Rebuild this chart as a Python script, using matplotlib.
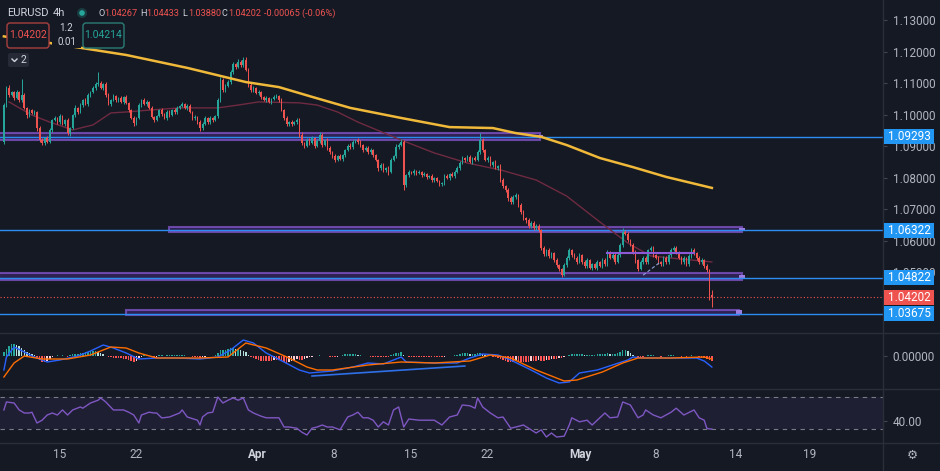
import matplotlib
matplotlib.use("Agg")
import matplotlib.pyplot as plt
import matplotlib.transforms as mtransforms
from matplotlib.patches import Rectangle, FancyBboxPatch, Circle
from matplotlib.lines import Line2D
import numpy as np

plt.rcParams['font.family'] = ['Roboto', 'DejaVu Sans']

# ---------------- data ----------------
symbol = "EURUSD"
timeframe = "4h"
ohlc_text = ["1.04267", "1.04433", "1.03880", "1.04202", "-0.00065 (-0.06%)"]
sell_price, buy_price = "1.04202", "1.04214"

first_open = 1.0913
closes = [
    1.1030, 1.1084, 1.1062, 1.1071, 1.1052, 1.1071, 1.1046, 1.1062, 1.1021, 1.0998, 1.1014, 1.1005, 1.1008, 1.0957, 1.0919, 1.0910, 1.0925, 1.0913, 1.0951, 1.0983,
    1.0989, 1.0976, 1.0995, 1.0970, 1.0983, 1.0941, 1.0957, 1.0998, 1.1021, 1.1008, 1.1030, 1.1046, 1.1033, 1.1062, 1.1071, 1.1084, 1.1097, 1.1100, 1.1084, 1.1097,
    1.1062, 1.1033, 1.1046, 1.1059, 1.1046, 1.1052, 1.1040, 1.1056, 1.1037, 1.1014, 1.0989, 1.0973, 1.0989, 1.1030, 1.1046, 1.1033, 1.1040, 1.1021, 1.0992, 1.0983,
    1.0995, 1.1014, 1.1002, 1.0989, 1.1008, 1.0998, 1.1014, 1.1008, 1.1021, 1.1027, 1.1033, 1.1021, 1.1027, 1.1008, 1.0989, 1.0992, 1.0976, 1.0957, 1.0970, 1.0989,
    1.0976, 1.0989, 1.0983, 1.0995, 1.1046, 1.1110, 1.1078, 1.1091, 1.1103, 1.1135, 1.1160, 1.1151, 1.1167, 1.1157, 1.1173, 1.1141, 1.1094, 1.1078, 1.1084, 1.1068,
    1.1071, 1.1056, 1.1046, 1.1052, 1.1040, 1.1049, 1.1056, 1.1059, 1.1046, 1.1014, 1.0989, 1.0970, 1.0976, 1.0970, 1.0976, 1.0983, 1.0935, 1.0910, 1.0900, 1.0919,
    1.0910, 1.0925, 1.0900, 1.0916, 1.0935, 1.0903, 1.0919, 1.0894, 1.0881, 1.0868, 1.0856, 1.0868, 1.0859, 1.0871, 1.0887, 1.0900, 1.0897, 1.0913, 1.0919, 1.0913,
    1.0903, 1.0887, 1.0894, 1.0881, 1.0887, 1.0871, 1.0856, 1.0830, 1.0840, 1.0824, 1.0830, 1.0818, 1.0856, 1.0868, 1.0897, 1.0903, 1.0913, 1.0776, 1.0808, 1.0818,
    1.0814, 1.0821, 1.0814, 1.0818, 1.0808, 1.0811, 1.0802, 1.0805, 1.0792, 1.0798, 1.0789, 1.0779, 1.0783, 1.0805, 1.0798, 1.0811, 1.0805, 1.0818, 1.0830, 1.0846,
    1.0862, 1.0856, 1.0865, 1.0849, 1.0862, 1.0856, 1.0881, 1.0919, 1.0887, 1.0856, 1.0862, 1.0840, 1.0849, 1.0830, 1.0836, 1.0792, 1.0773, 1.0760, 1.0735, 1.0722,
    1.0738, 1.0745, 1.0713, 1.0691, 1.0671, 1.0665, 1.0646, 1.0656, 1.0640, 1.0646, 1.0633, 1.0576, 1.0557, 1.0570, 1.0551, 1.0560, 1.0538, 1.0522, 1.0510, 1.0492,
    1.0522, 1.0545, 1.0570, 1.0554, 1.0545, 1.0532, 1.0554, 1.0532, 1.0519, 1.0538, 1.0513, 1.0525, 1.0513, 1.0532, 1.0519, 1.0538, 1.0525, 1.0564, 1.0545, 1.0554,
    1.0532, 1.0554, 1.0586, 1.0627, 1.0621, 1.0602, 1.0586, 1.0564, 1.0538, 1.0510, 1.0532, 1.0545, 1.0532, 1.0570, 1.0576, 1.0554, 1.0545, 1.0532, 1.0525, 1.0545,
    1.0532, 1.0554, 1.0570, 1.0576, 1.0564, 1.0545, 1.0532, 1.0545, 1.0525, 1.0551, 1.0570, 1.0560, 1.0545, 1.0532, 1.0538, 1.0519, 1.0506, 1.04267, 1.04202,
]
up_wick_pips = [
    8, 6, 9, 4, 5, 7, 3, 50, 6, 4, 5, 3, 7, 4, 5, 6, 3, 8, 5, 4,
    6, 3, 7, 5, 4, 6, 3, 5, 8, 4, 6, 3, 7, 5, 4, 6, 5, 35, 6, 4,
    5, 7, 3, 6, 4, 5, 8, 3, 6, 4, 5, 7, 4, 6, 3, 5, 6, 4, 7, 3,
    5, 4, 6, 3, 7, 5, 4, 6, 5, 3, 7, 4, 5, 6, 3, 5, 4, 7, 5, 6,
    4, 6, 3, 5, 7, 9, 6, 5, 8, 6, 7, 5, 9, 6, 10, 8, 6, 5, 7, 4,
    6, 5, 4, 7, 5, 3, 6, 5, 4, 7, 5, 6, 4, 5, 3, 6, 5, 8, 4, 6,
    5, 7, 4, 6, 9, 5, 4, 6, 5, 3, 7, 4, 6, 5, 4, 6, 8, 5, 4, 6,
    5, 4, 7, 5, 6, 3, 5, 4, 6, 5, 4, 7, 6, 5, 8, 6, 9, 6, 4, 5,
    3, 5, 4, 6, 3, 5, 4, 3, 6, 4, 5, 3, 4, 6, 5, 4, 6, 5, 7, 5,
    6, 4, 5, 6, 4, 5, 7, 22, 6, 4, 5, 6, 4, 5, 3, 6, 5, 4, 6, 5,
    7, 5, 4, 6, 5, 3, 6, 5, 7, 6, 8, 5, 6, 4, 7, 5, 4, 6, 5, 4,
    6, 7, 5, 4, 6, 5, 7, 4, 5, 6, 4, 5, 3, 6, 4, 5, 6, 5, 4, 6,
    5, 7, 6, 14, 6, 5, 4, 6, 5, 4, 7, 5, 6, 4, 5, 6, 4, 5, 3, 6,
    5, 4, 7, 6, 5, 4, 6, 5, 4, 6, 7, 5, 4, 6, 5, 4, 6, 5, 17,
]
down_wick_pips = [
    8, 5, 6, 4, 7, 3, 5, 6, 4, 8, 5, 4, 6, 9, 7, 8, 6, 5, 4, 6,
    3, 5, 6, 4, 7, 5, 8, 4, 6, 5, 3, 7, 4, 5, 6, 4, 5, 6, 4, 7,
    5, 4, 6, 3, 7, 5, 4, 6, 5, 7, 4, 8, 6, 4, 5, 3, 6, 5, 4, 7,
    5, 4, 6, 3, 5, 7, 4, 5, 6, 4, 3, 5, 6, 4, 7, 5, 6, 8, 5, 4,
    6, 5, 7, 4, 6, 5, 8, 6, 4, 5, 7, 5, 4, 6, 5, 4, 7, 5, 6, 4,
    5, 6, 4, 7, 5, 6, 4, 5, 6, 4, 7, 8, 5, 6, 4, 5, 7, 6, 5, 4,
    6, 5, 7, 4, 5, 6, 4, 7, 5, 6, 8, 5, 4, 6, 5, 4, 6, 5, 4, 7,
    5, 6, 4, 7, 5, 6, 4, 8, 5, 6, 7, 9, 5, 4, 6, 5, 4, 16, 6, 5,
    4, 5, 6, 4, 5, 3, 6, 4, 5, 6, 4, 7, 5, 6, 4, 5, 3, 6, 4, 5,
    4, 6, 5, 4, 6, 5, 4, 6, 5, 4, 6, 5, 7, 4, 6, 5, 7, 6, 8, 5,
    6, 5, 7, 6, 5, 8, 6, 5, 7, 6, 5, 6, 7, 5, 6, 5, 7, 6, 8, 7,
    6, 5, 7, 6, 5, 6, 4, 7, 5, 6, 4, 7, 5, 6, 4, 7, 5, 6, 4, 5,
    6, 4, 5, 6, 5, 7, 5, 6, 8, 6, 5, 7, 6, 5, 4, 6, 5, 7, 6, 5,
    6, 5, 7, 4, 6, 5, 7, 6, 5, 6, 5, 7, 6, 5, 6, 5, 6, 15, 32,
]

# moving averages (bar index, price)
ma_slow_bar = [0, 18, 33, 48, 72, 95, 108, 121, 136, 156, 175, 192, 201, 211, 221, 234, 247, 260, 278]
ma_slow_val = [1.1248, 1.1227, 1.1208, 1.1189, 1.1148, 1.1103, 1.1087, 1.1056, 1.1021, 1.0989, 1.0960,
               1.0957, 1.0941, 1.0929, 1.0903, 1.0862, 1.0833, 1.0802, 1.0767]
ma_fast_bar = [2, 11, 18, 27, 35, 42, 48, 57, 69, 84, 92, 100, 116, 123, 131, 139, 156, 169, 182, 195,
               209, 221, 234, 245, 254, 266, 278]
ma_fast_val = [1.1040, 1.0998, 1.0976, 1.0951, 1.0967, 1.1005, 1.1008, 1.1014, 1.1021, 1.1021, 1.1030,
               1.1040, 1.1037, 1.1030, 1.1008, 1.0976, 1.0919, 1.0878, 1.0846, 1.0824, 1.0792, 1.0741,
               1.0659, 1.0592, 1.0551, 1.0541, 1.0532]

# horizontal levels and zones
level_prices = [1.09293, 1.06322, 1.04822, 1.03675]
last_price = 1.04202
zone_start = [-2, 65, -2, 48]
zone_end = [210.5, 290, 290, 288.5]
zone_low = [1.0919, 1.0626, 1.0475, 1.0364]
zone_high = [1.0942, 1.0644, 1.0496, 1.0380]
small_line_bars, small_line_price = [237, 271], 1.0560
diag_bars, diag_prices = [251, 258], [1.0490, 1.0533]
price_ticks = [1.05, 1.06, 1.07, 1.08, 1.09, 1.10, 1.11, 1.12, 1.13]

# MACD (bar index, value)
macd_bar = [0, 1, 4, 8, 11, 17, 22, 29, 34, 39, 43, 48, 53, 60, 68, 77, 84, 89, 94, 98, 103, 110, 116, 120, 129,
            137, 143, 149, 156, 158, 169, 178, 183, 188, 194, 199, 207, 213, 218, 222, 226, 233, 239, 245, 247,
            251, 262, 272, 275, 277, 278]
macd_val = [-0.0028, -0.0002, 0.0018, 0.0008, 0.0000, -0.0012, -0.0008, 0.0000, 0.0010, 0.0022, 0.0016, 0.0006,
            -0.0006, -0.0004, -0.0004, -0.0006, -0.0002, 0.0012, 0.0032, 0.0026, 0.0006, -0.0012, -0.0028, -0.0034,
            -0.0030, -0.0022, -0.0014, -0.0016, -0.0002, -0.0012, -0.0014, -0.0014, -0.0004, 0.0004, 0.0002, -0.0008,
            -0.0028, -0.0044, -0.0054, -0.0052, -0.0034, -0.0028, -0.0018, -0.0008, -0.0002, -0.0004, -0.0004, -0.0004,
            -0.0010, -0.0018, -0.0022]
signal_bar = [0, 4, 8, 15, 25, 34, 42, 48, 53, 60, 77, 88, 95, 103, 112, 119, 123, 129, 143, 156, 169, 183, 191,
              199, 209, 220, 225, 235, 243, 249, 262, 275, 278]
signal_val = [-0.0042, -0.0014, 0.0000, -0.0006, -0.0006, 0.0002, 0.0018, 0.0016, 0.0006, -0.0004, -0.0004,
              -0.0002, 0.0026, 0.0016, -0.0004, -0.0022, -0.0028, -0.0028, -0.0018, -0.0012, -0.0014, -0.0010,
              0.0002, -0.0004, -0.0028, -0.0050, -0.0048, -0.0032, -0.0014, -0.0004, -0.0004, -0.0002, -0.0006]
hist_e4 = [
    8, 14, 20, 24, 24, 22, 20, 16, 12, 8, 6, 4, 2, -4, -8, -12, -12, -10, -6, -2,
    1, 2, 1, 2, 1, -2, 2, 4, 4, 4, 6, 6, 8, 8, 10, 10, 10, 8, 6, 4,
    1, -2, -2, -4, -4, -4, -4, -6, -6, -8, -10, -12, -10, -4, -1, 2, 2, 1, -2, -2,
    -1, 2, 2, 1, 2, 2, 2, 2, 2, 2, 2, 2, 1, 1, -2, -2, -2, -4, -2, -1,
    1, 1, 1, 2, 6, 12, 12, 12, 14, 16, 16, 14, 14, 12, 10, 8, 2, -2, -4, -6,
    -8, -10, -10, -10, -10, -10, -8, -8, -8, -10, -12, -14, -12, -10, -8, -6, -8, -8, -6, -4,
    -2, -1, 1, 1, 2, 1, 1, 1, -2, -2, -2, -1, 1, 2, 4, 4, 4, 4, 4, 2,
    2, 1, 1, 1, -1, -2, -2, -2, -2, -2, -2, -2, 2, 4, 6, 6, 8, 2, 1, -1,
    -2, -2, -2, -2, -2, -2, -2, -2, -2, -2, -2, -2, -2, -1, 1, 1, 1, 2, 2, 4,
    6, 6, 6, 4, 4, 4, 6, 6, 4, 2, 2, 1, -1, -2, -4, -6, -8, -10, -12, -12,
    -12, -10, -12, -12, -12, -12, -12, -10, -10, -10, -8, -10, -10, -8, -8, -6, -6, -6, -4, -4,
    -2, 1, 2, 4, 4, 4, 4, 4, 2, 2, 2, 2, 2, 4, 4, 4, 4, 6, 4, 4,
    4, 6, 8, 12, 12, 10, 6, 2, 1, -2, -2, -2, 1, 2, 2, 2, 1, 1, -2, 1,
    1, 2, 2, 2, 1, 1, -2, 1, -2, 1, 2, 1, 1, -2, -4, -4, -6, -8, -10,
]
macd_trend_bars, macd_trend_vals = [121, 181], [-0.0040, -0.0020]

# RSI (bar index, value)
rsi_points = [
    (0, 53.8), (1, 63.8), (4, 62.5), (6, 53.8), (8, 50), (10, 50), (11, 51), (13, 37.5), (15, 41), (17, 47.5),
    (19, 50), (21, 47.5), (23, 53.8), (25, 47.5), (27, 53.8), (30, 57.5), (31, 56), (34, 62.5), (37, 66), (38, 68.8),
    (40, 63.8), (43, 53.8), (47, 53.8), (49, 51), (51, 47.5), (53, 37.5), (54, 47.5), (57, 51), (59, 50), (60, 50),
    (62, 43.8), (65, 45), (69, 50), (70, 53.8), (72, 45), (76, 41), (77, 35), (78, 45), (80, 50), (82, 51),
    (84, 70), (86, 62.5), (88, 66), (90, 68.8), (92, 66), (94, 68.8), (96, 53.8), (98, 50), (101, 46), (103, 44),
    (106, 44), (108, 44), (110, 32.5), (112, 32.5), (115, 31), (117, 26), (119, 22.5), (121, 31), (123, 32.5), (125, 35),
    (127, 32.5), (129, 32.5), (132, 29), (135, 45), (137, 47.5), (139, 51), (141, 44), (143, 44), (145, 41), (147, 32.5),
    (149, 39), (151, 35), (153, 53.8), (155, 57.5), (157, 32.5), (159, 42.5), (163, 41), (169, 41), (172, 35), (175, 45),
    (178, 47.5), (180, 60), (183, 59), (185, 56), (186, 68.8), (188, 57.5), (191, 50), (194, 44), (196, 45), (199, 31),
    (201, 32.5), (204, 35), (207, 29), (209, 25), (211, 29), (213, 20), (215, 25), (217, 20), (220, 21), (222, 35),
    (223, 44), (226, 39), (229, 41), (231, 35), (234, 44), (236, 50), (238, 44), (241, 45), (243, 63.8), (246, 60),
    (249, 44), (251, 47.5), (252, 53.8), (255, 47.5), (258, 44), (262, 51), (264, 56), (267, 47.5), (271, 53.8), (273, 44),
    (275, 41), (276, 31), (277, 30), (278, 30),
]

# time axis
time_tick_bars = [21.75, 51.75, 99.5, 129.6, 159.8, 189.8, 226.2, 256.0, 287.3, 316.5]
time_tick_labels = ["15", "22", "Apr", "8", "15", "22", "May", "8", "14", "19"]

# ---------------- style ----------------
BG = '#151924'
UP, DN = '#26a69a', '#ef5350'
TXT = '#b2b5be'
SEP = '#2a2e39'
BLUE = '#2196f3'
W, H = 940, 471
PPX = 1.0 / 3150  # price per pixel in the main pane (used only for label box sizes)

fig = plt.figure(figsize=(W / 100, H / 100), dpi=100, facecolor=BG)


def add_axes_px(x0, y0, x1, y1):
    a = fig.add_axes([x0 / W, 1 - y1 / H, (x1 - x0) / W, (y1 - y0) / H])
    a.set_facecolor(BG)
    for s in a.spines.values():
        s.set_color(SEP)
    a.spines['left'].set_visible(False)
    a.spines['top'].set_visible(False)
    a.tick_params(left=False, labelleft=False, right=True, labelright=True,
                  bottom=False, labelbottom=False, colors=TXT, labelsize=8.5,
                  length=3, pad=4)
    a.tick_params(axis='y', color='#434651')
    a.set_xlim(-1.53, 345.2)
    return a


ax = add_axes_px(0, 0, 883, 333)
axm = add_axes_px(0, 333, 883, 389)
axr = add_axes_px(0, 389, 883, 443)

# ---------------- price pane ----------------
c = np.array(closes)
o = np.concatenate([[first_open], c[:-1]])
hi = np.maximum(o, c) + np.array(up_wick_pips) * 1e-4
lo = np.minimum(o, c) - np.array(down_wick_pips) * 1e-4
x = np.arange(len(c))
cols = np.where(c >= o, UP, DN)

# zones
for xs, xe, zl, zh in zip(zone_start, zone_end, zone_low, zone_high):
    ax.add_patch(Rectangle((xs, zl), xe - xs, zh - zl, facecolor='#3a2766', alpha=0.7,
                           edgecolor='#8c5ad8', lw=1.5, zorder=1))
    ax.add_patch(Rectangle((xe - 1.2, (zl + zh) / 2 - 0.0006), 2.4, 0.0012,
                           facecolor='#9d7ce0', edgecolor='none', zorder=1.2))

ax.vlines(x, lo, hi, colors=cols, lw=0.7, zorder=3)
ax.bar(x, np.maximum(np.abs(c - o), 0.00008), bottom=np.minimum(o, c), width=0.62,
       color=cols, linewidth=0, zorder=3)

ax.plot(ma_fast_bar, ma_fast_val, color='#6e2a40', lw=1.0, zorder=2.5)
ax.plot(ma_slow_bar, ma_slow_val, color='#f0b93a', lw=1.8, zorder=4)

for lv in level_prices:
    ax.axhline(lv, color='#2a8ef0', lw=1.0, zorder=2)
ax.axhline(last_price, color=DN, lw=0.8, ls=(0, (1, 2)), zorder=2)
ax.plot(small_line_bars, [small_line_price] * 2, color='#8c5ad8', lw=1.5, zorder=3.5)
ax.plot(diag_bars, diag_prices, color='#8fa3d8', lw=0.8, ls=(0, (3, 2)), zorder=3.5)

ax.set_ylim(1.03064, 1.13635)
ax.set_yticks(price_ticks)
ax.set_yticklabels([f"{t:.5f}" for t in price_ticks])

# right axis label boxes
btr = mtransforms.blended_transform_factory(fig.transFigure, ax.transData)
for lv, col in [(p, BLUE) for p in level_prices] + [(last_price, DN)]:
    r = Rectangle((884 / W, lv - 7.5 * PPX), 50 / W, 15 * PPX, transform=btr,
                  facecolor=col, edgecolor='none', clip_on=False, zorder=20)
    fig.add_artist(r)
    fig.text(909 / W, lv, f"{lv:.5f}", transform=btr, ha='center', va='center',
             color='white', fontsize=8.5, zorder=21)

# ---------------- MACD pane ----------------
hv = np.array(hist_e4) * 1e-4
prev = np.concatenate([[hv[0]], hv[:-1]])
hcols = []
for v, pv in zip(hv, prev):
    if v >= 0:
        hcols.append('#26a69a' if v >= pv else '#b2dfdb')
    else:
        hcols.append('#ff5252' if v <= pv else '#ffcdd2')
axm.bar(x, hv, width=0.6, color=hcols, linewidth=0, zorder=2)
axm.plot(macd_bar, macd_val, color='#2962ff', lw=1.0, zorder=3)
axm.plot(signal_bar, signal_val, color='#ff6d00', lw=1.0, zorder=3)
axm.plot(macd_trend_bars, macd_trend_vals, color='#2f6fe8', lw=1.2, zorder=3)
axm.set_ylim(-0.0066, 0.0046)
axm.set_yticks([0.0])
axm.set_yticklabels(["0.00000"])

# ---------------- RSI pane ----------------
axr.axhspan(30, 70, color='#7e57c2', alpha=0.1, lw=0)
for lv in (30, 70):
    axr.axhline(lv, color='#787b86', lw=0.8, ls=(0, (4, 4)))
rb = [p[0] for p in rsi_points]
rv = [p[1] for p in rsi_points]
axr.plot(rb, rv, color='#7e57c2', lw=1.0)
axr.set_ylim(12.5, 80)
axr.set_yticks([40])
axr.set_yticklabels(["40.00"])
axr.set_xticks(time_tick_bars)
axr.set_xticklabels(time_tick_labels)
axr.tick_params(axis='x', bottom=True, labelbottom=True, length=0, pad=3.5, labelsize=8.5, colors=TXT)
for lbl in axr.get_xticklabels():
    if lbl.get_text() in ("Apr", "May"):
        lbl.set_fontweight('bold')
        lbl.set_color('#d1d4dc')

# separators
for yy in (333, 389, 443):
    fig.add_artist(Line2D([0, 1], [1 - yy / H] * 2, transform=fig.transFigure, color=SEP, lw=1))
fig.add_artist(Line2D([883 / W] * 2, [0, 1], transform=fig.transFigure, color=SEP, lw=1))

# ---------------- legend / header ----------------
ID = mtransforms.IdentityTransform()


def ptext(xp, yp, s, **kw):
    fig.text(xp, H - yp, s, transform=ID, **kw)


ptext(7, 13, symbol, color='#d1d4dc', fontsize=8, va='center')
ptext(53, 13, timeframe, color='#d1d4dc', fontsize=8, va='center')
fig.add_artist(Circle((82, H - 13), 5, transform=ID, facecolor=UP, alpha=0.25, edgecolor='none'))
fig.add_artist(Circle((82, H - 13), 2.8, transform=ID, facecolor=UP, edgecolor='none'))
xs_letters = [98.5, 140, 182, 222]
for xl, letter, val in zip(xs_letters, "OHLC", ohlc_text[:4]):
    ptext(xl, 13, letter, color='#d1d4dc', fontsize=6.6, va='center')
    ptext(xl + 6, 13, val, color=DN, fontsize=6.6, va='center')
ptext(264, 13, ohlc_text[4], color=DN, fontsize=6.6, va='center')

fig.add_artist(FancyBboxPatch((7, H - 48), 42, 25, boxstyle='round,pad=0,rounding_size=3', transform=ID,
                              facecolor=BG, edgecolor='#a8403f', lw=1.0, zorder=10))
ptext(28, 35.5, sell_price, color=DN, fontsize=7.5, ha='center', va='center', zorder=11)
fig.add_artist(FancyBboxPatch((83, H - 48), 41, 25, boxstyle='round,pad=0,rounding_size=3', transform=ID,
                              facecolor=BG, edgecolor='#2b7d75', lw=1.0, zorder=10))
ptext(103.5, 35.5, buy_price, color=UP, fontsize=7.5, ha='center', va='center', zorder=11)
fig.add_artist(Rectangle((52, H - 48), 29, 25, transform=ID, facecolor=BG, edgecolor='none', zorder=9))
ptext(66.5, 28, "1.2", color='#d1d4dc', fontsize=7, ha='center', va='center', zorder=11)
ptext(66.5, 42, "0.01", color='#d1d4dc', fontsize=7, ha='center', va='center', zorder=11)

fig.add_artist(FancyBboxPatch((8, H - 67), 21, 14, boxstyle='round,pad=0,rounding_size=2', transform=ID,
                              facecolor='#262a36', edgecolor='none', zorder=10))
fig.add_artist(Line2D([12, 14.5, 17], [H - 59, H - 61.5, H - 59], transform=ID, color='#d1d4dc', lw=1.0, zorder=11))
ptext(23, 60, "2", color='#d1d4dc', fontsize=7.5, ha='center', va='center', zorder=11)

ptext(912, 455, "\u2699", color=TXT, fontsize=9, ha='center', va='center', family='DejaVu Sans')

fig.savefig("out.png", dpi=100, facecolor=BG)
